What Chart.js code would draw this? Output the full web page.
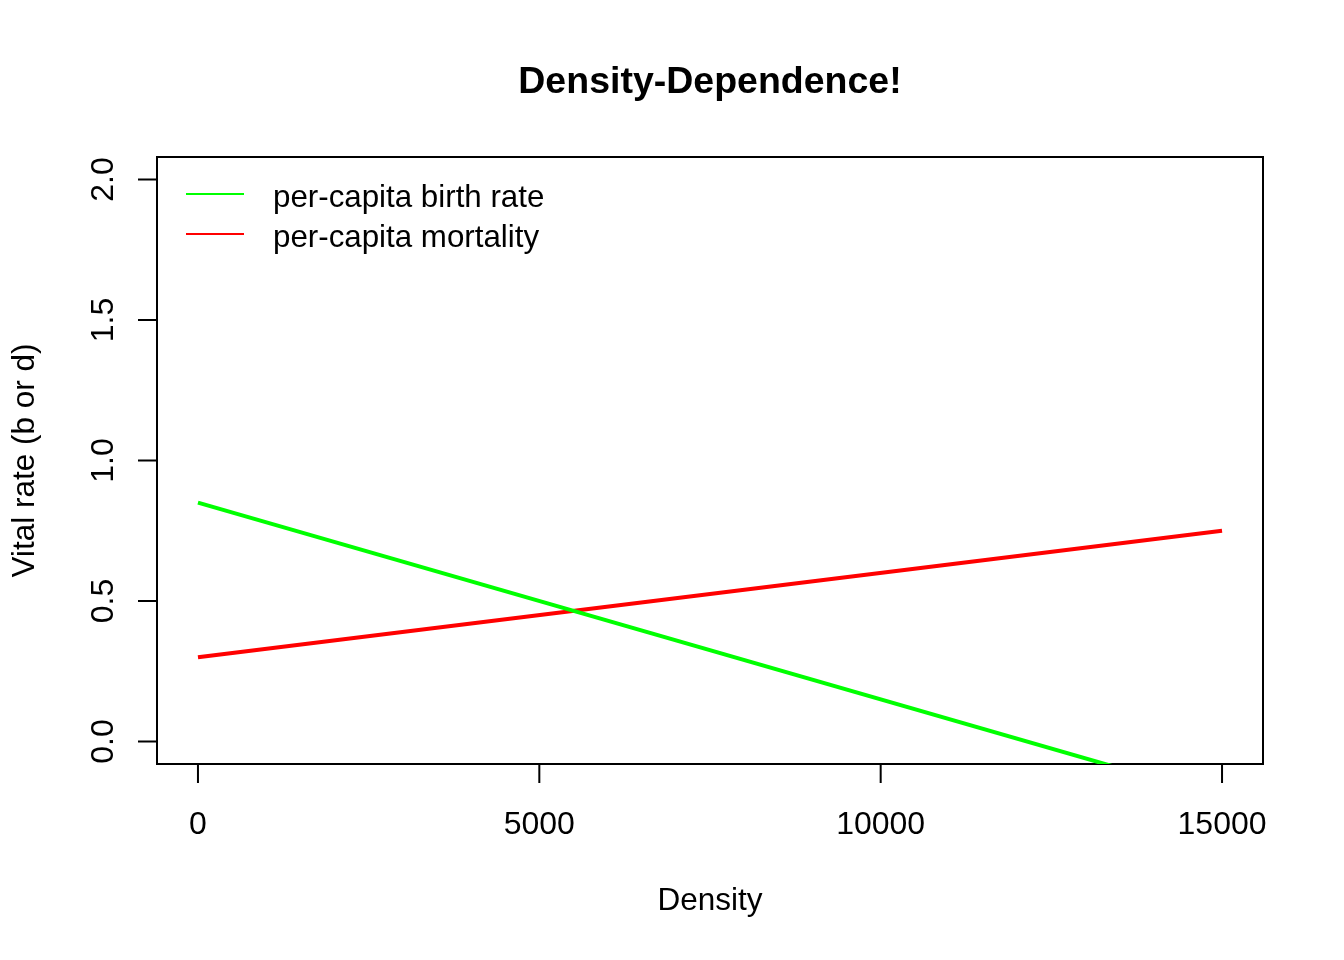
<!DOCTYPE html>
<html>
<head>
<meta charset="utf-8">
<script src="https://cdn.jsdelivr.net/npm/chart.js@4"></script>
<style>
  html, body { margin: 0; padding: 0; background: #fff; }
  canvas { display: block; }
</style>
</head>
<body>
<canvas id="densityChart" width="1344" height="960"></canvas>
<script>
// data
const density = [0, 15000];
const birthRate = [0.85, -0.2];
const mortality = [0.3, 0.75];
const seriesNames = ['per-capita birth rate', 'per-capita mortality'];
const seriesColors = ['#00ff00', '#ff0000'];
const xTicks = [0, 5000, 10000, 15000];
const xTickLabels = ['0', '5000', '10000', '15000'];
const yTicks = [0, 0.5, 1, 1.5, 2];
const yTickLabels = ['0.0', '0.5', '1.0', '1.5', '2.0'];
const titleText = 'Density-Dependence!';
const xTitle = 'Density';
const yTitle = 'Vital rate (b or d)';

const FONT = '"Liberation Sans", Arial, sans-serif';

function toPoints(xs, ys) {
    return xs.map((x, i) => ({ x: x, y: ys[i] }));
}

// R style frame, ticks and labels, drawn from the chart scales
const baseAxes = {
    id: 'baseAxes',
    beforeDatasetsDraw(chart) {
        const ctx = chart.ctx;
        const area = chart.chartArea;
        const xs = chart.scales.x;
        const ys = chart.scales.y;
        ctx.save();
        ctx.strokeStyle = '#000';
        ctx.fillStyle = '#000';
        ctx.lineWidth = 2;
        ctx.strokeRect(area.left, area.top, area.right - area.left, area.bottom - area.top);

        // x axis ticks
        ctx.beginPath();
        xTicks.forEach(v => {
            const px = xs.getPixelForValue(v);
            ctx.moveTo(px, area.bottom);
            ctx.lineTo(px, area.bottom + 19);
        });
        // y axis ticks
        yTicks.forEach(v => {
            const py = ys.getPixelForValue(v);
            ctx.moveTo(area.left, py);
            ctx.lineTo(area.left - 19, py);
        });
        ctx.stroke();

        ctx.font = '32px ' + FONT;
        ctx.textAlign = 'center';
        ctx.textBaseline = 'alphabetic';
        xTicks.forEach((v, i) => {
            ctx.fillText(xTickLabels[i], xs.getPixelForValue(v), area.bottom + 70);
        });
        yTicks.forEach((v, i) => {
            ctx.save();
            ctx.translate(area.left - 44, ys.getPixelForValue(v));
            ctx.rotate(-Math.PI / 2);
            ctx.fillText(yTickLabels[i], 0, 0);
            ctx.restore();
        });

        const midX = (area.left + area.right) / 2;
        const midY = (area.top + area.bottom) / 2;
        ctx.font = '31.5px ' + FONT;
        ctx.fillText(xTitle, midX, area.bottom + 146);
        ctx.save();
        ctx.translate(34, midY);
        ctx.rotate(-Math.PI / 2);
        ctx.fillText(yTitle, 0, 0);
        ctx.restore();

        ctx.font = 'bold 37.5px ' + FONT;
        ctx.fillText(titleText, midX, 93);
        ctx.restore();
    },
    afterDatasetsDraw(chart) {
        // legend box in the top-left corner, no frame
        const ctx = chart.ctx;
        const area = chart.chartArea;
        ctx.save();
        ctx.lineWidth = 2;
        ctx.font = '31.3px ' + FONT;
        ctx.textAlign = 'left';
        ctx.textBaseline = 'alphabetic';
        chart.data.datasets.forEach((ds, i) => {
            const y = area.top + 37 + i * 40;
            ctx.strokeStyle = ds.borderColor;
            ctx.beginPath();
            ctx.moveTo(area.left + 29, y);
            ctx.lineTo(area.left + 87, y);
            ctx.stroke();
            ctx.fillStyle = '#000';
            ctx.fillText(ds.label, area.left + 116, y + 13);
        });
        ctx.restore();
    }
};

const ctx = document.getElementById('densityChart').getContext('2d');
const chart = new Chart(ctx, {
    type: 'line',
    data: {
        datasets: [
            {
                label: seriesNames[0],
                data: toPoints(density, birthRate),
                borderColor: seriesColors[0],
                borderWidth: 4,
                pointRadius: 0,
                tension: 0,
                fill: false,
                clip: 0
            },
            {
                label: seriesNames[1],
                data: toPoints(density, mortality),
                borderColor: seriesColors[1],
                borderWidth: 4,
                pointRadius: 0,
                tension: 0,
                fill: false,
                clip: 0
            }
        ]
    },
    options: {
        responsive: false,
        animation: false,
        devicePixelRatio: 1,
        layout: {
            padding: { left: 157, top: 157, right: 81, bottom: 196 }
        },
        plugins: {
            legend: { display: false },
            title: { display: false },
            tooltip: { enabled: false }
        },
        scales: {
            x: { type: 'linear', min: -600, max: 15600, display: false },
            y: { type: 'linear', min: -0.08, max: 2.08, display: false }
        }
    },
    plugins: [baseAxes]
});
</script>
</body>
</html>
